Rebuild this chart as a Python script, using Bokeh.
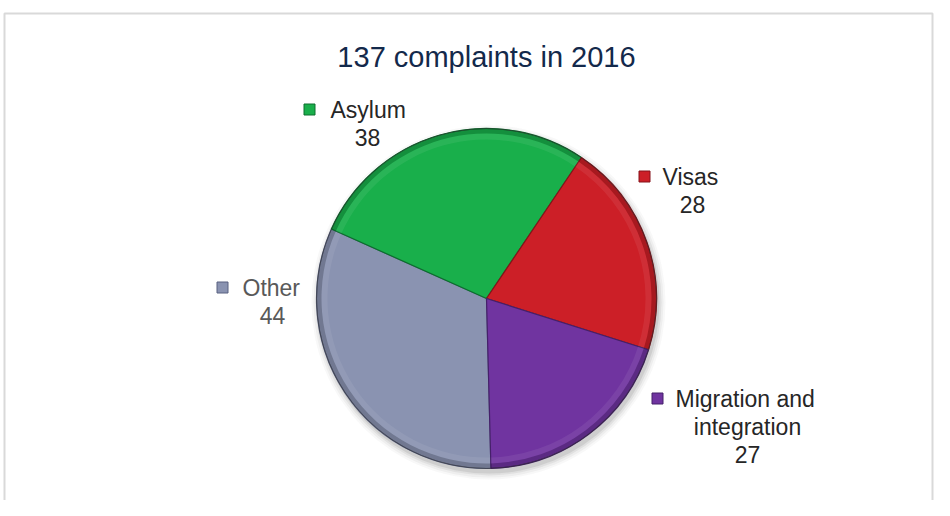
import math
from bokeh.plotting import figure
from bokeh.models import Range1d
from bokeh.core.properties import value
from bokeh.embed import file_html
from bokeh.resources import INLINE

# ---------------- data ----------------
title_text = "137 complaints in 2016"
categories = ["Asylum", "Visas", "Migration and integration", "Other"]
counts = [38, 28, 27, 44]
colors = ["#19AF4B", "#CC1F27", "#7034A0", "#8A93B1"]
edge_colors = ["#0C6E2E", "#86131A", "#45206A", "#596180"]
label_lines = [["Asylum"], ["Visas"], ["Migration and", "integration"], ["Other"]]
label_colors = ["#262626", "#262626", "#262626", "#595959"]
# slices are laid clockwise starting at the bottom of the pie with "Other"
draw_order = [3, 0, 1, 2]

# ---------------- layout (picture pixels) ----------------
W, H = 934, 500
FONT = "Liberation Sans"
cx, cy, R = 486, 298, 170
start_compass = 178.5  # degrees clockwise from 12 o'clock
label_layout = {
    "Asylum": dict(marker=(309, 109), name_x=330, center_x=367),
    "Visas": dict(marker=(644, 176), name_x=662, center_x=692),
    "Migration and integration": dict(marker=(657, 398), name_x=675, center_x=747),
    "Other": dict(marker=(222, 287), name_x=242, center_x=272),
}
LINE_H = 28


def Y(py):
    return H - py


p = figure(width=W, height=H, output_backend="svg", toolbar_location=None,
           x_range=Range1d(0, W), y_range=Range1d(0, H),
           min_border=0, outline_line_color=None)
p.axis.visible = False
p.grid.visible = False
p.background_fill_color = "white"
p.border_fill_color = "white"

# chart frame
p.line(x=[4, 4, 932, 932], y=[0, Y(13), Y(13), 0], line_color="#D9D9D9", line_width=2)

# title
p.text(x=[486], y=[Y(56)], text=[title_text], text_font=value(FONT),
       text_font_size="29px", text_color="#13294B", text_align="center",
       text_baseline="middle")

# soft shadow
for r_add, a in [(7, 0.04), (5, 0.06), (3, 0.09), (1, 0.12)]:
    p.circle(x=[cx + 2], y=[Y(cy + 4)], radius=R + r_add, fill_color="#555555",
             fill_alpha=a, line_color=None)

total = sum(counts)
cum = 0.0
for i in draw_order:
    th1 = start_compass + cum * 360.0 / total
    th2 = th1 + counts[i] * 360.0 / total
    cum += counts[i]
    a_start = math.radians(90 - th2)
    a_end = math.radians(90 - th1)
    p.wedge(x=[cx], y=[Y(cy)], radius=R, start_angle=a_start, end_angle=a_end,
            direction="anticlock", fill_color=colors[i], line_color=edge_colors[i],
            line_width=1.2)
    # bevel: dark rim and light inner band
    p.annular_wedge(x=[cx], y=[Y(cy)], inner_radius=R - 5, outer_radius=R,
                    start_angle=a_start, end_angle=a_end, direction="anticlock",
                    fill_color="black", fill_alpha=0.18, line_color=None)
    p.annular_wedge(x=[cx], y=[Y(cy)], inner_radius=R - 11, outer_radius=R - 5,
                    start_angle=a_start, end_angle=a_end, direction="anticlock",
                    fill_color="white", fill_alpha=0.07, line_color=None)

# outline around the pie
p.circle(x=[cx], y=[Y(cy)], radius=R, fill_color=None, line_color="#333333",
         line_alpha=0.5, line_width=1)

# labels
for i, cat in enumerate(categories):
    lay = label_layout[cat]
    mx, my = lay["marker"]
    p.scatter(x=[mx], y=[Y(my)], marker="square", size=11, fill_color=colors[i],
              line_color=edge_colors[i], line_width=1)
    lines = label_lines[i]
    p.text(x=[lay["name_x"]], y=[Y(my)], text=[lines[0]], text_font=value(FONT),
           text_font_size="23px", text_color=label_colors[i], text_align="left",
           text_baseline="middle")
    extra = lines[1:] + [str(counts[i])]
    for k, t in enumerate(extra):
        p.text(x=[lay["center_x"]], y=[Y(my + LINE_H * (k + 1))], text=[t],
               text_font=value(FONT), text_font_size="23px",
               text_color=label_colors[i], text_align="center",
               text_baseline="middle")

open("out.html", "w").write(file_html(p, INLINE))
